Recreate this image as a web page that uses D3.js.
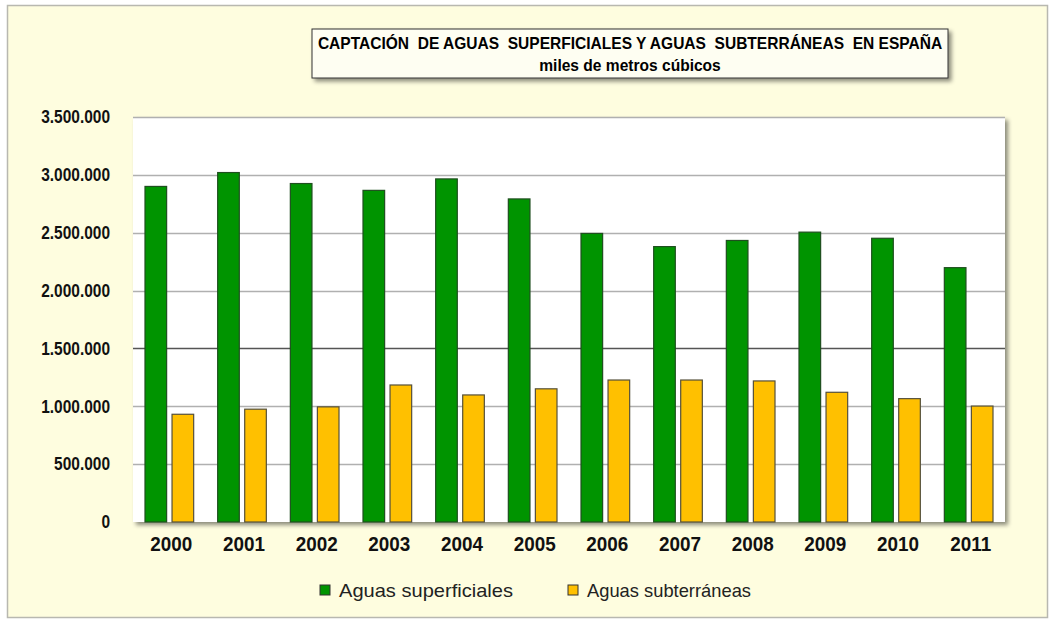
<!DOCTYPE html>
<html>
<head>
<meta charset="utf-8">
<script src="https://cdn.jsdelivr.net/npm/d3@7"></script>
<style>
	body { margin: 0; background: #ffffff; }
	svg text { font-family: "Liberation Sans Narrow", "Liberation Sans", Arial, sans-serif; }
</style>
</head>
<body>
<div id="chart"></div>
<script>
const years = ["2000", "2001", "2002", "2003", "2004", "2005", "2006", "2007", "2008", "2009", "2010", "2011"];
const superficiales = [2900000, 3020000, 2925000, 2866000, 2965000, 2792000, 2494000, 2380000, 2433000, 2505000, 2452000, 2198000];
const subterraneas = [931000, 975000, 995000, 1184000, 1098000, 1151000, 1227000, 1227000, 1219000, 1121000, 1066000, 1002000];
const seriesNames = ["Aguas superficiales", "Aguas subterráneas"];
const yTicks = [0, 500000, 1000000, 1500000, 2000000, 2500000, 3000000, 3500000];

const width = 1050;
const height = 621;
const plot = { left: 133, right: 1005, top: 117, bottom: 522 };

const svg = d3.select("#chart")
	.append("svg")
	.attr("width", width)
	.attr("height", height);

const defs = svg.append("defs");
const shadow = defs.append("filter").attr("id", "shadow").attr("x", "-5%").attr("y", "-5%").attr("width", "115%").attr("height", "130%");
shadow.append("feDropShadow").attr("dx", 3).attr("dy", 3).attr("stdDeviation", 2).attr("flood-color", "#000").attr("flood-opacity", 0.45);

// background panel
svg.append("rect")
	.attr("x", 7.5).attr("y", 5.5)
	.attr("width", 1040).attr("height", 612)
	.attr("fill", "#fefddf")
	.attr("stroke", "#b8b8b0")
	.attr("stroke-width", 1.5);

// title box
const titleG = svg.append("g");
titleG.append("rect")
	.attr("x", 312).attr("y", 29)
	.attr("width", 636).attr("height", 49)
	.attr("fill", "#fefef2")
	.attr("stroke", "#333")
	.attr("stroke-width", 1)
	.attr("filter", "url(#shadow)");
titleG.append("text")
	.attr("transform", "translate(630,49) scale(0.898,1)")
	.attr("text-anchor", "middle")
	.attr("font-size", 17.3)
	.attr("font-weight", "bold")
	.attr("xml:space", "preserve")
	.text("CAPTACIÓN  DE AGUAS  SUPERFICIALES Y AGUAS  SUBTERRÁNEAS  EN ESPAÑA");
titleG.append("text")
	.attr("transform", "translate(630,71) scale(0.9,1)")
	.attr("text-anchor", "middle")
	.attr("font-size", 17.3)
	.attr("font-weight", "bold")
	.text("miles de metros cúbicos");

// plot area
svg.append("rect")
	.attr("x", plot.left).attr("y", plot.top)
	.attr("width", plot.right - plot.left).attr("height", plot.bottom - plot.top)
	.attr("fill", "#ffffff")
	.attr("filter", "url(#shadow)");

const y = d3.scaleLinear().domain([0, 3500000]).range([plot.bottom, plot.top]);
const x0 = d3.scaleBand().domain(years).range([plot.left, plot.right]).padding(0);
const x1 = d3.scaleBand().domain(seriesNames).range([12, x0.bandwidth() - 12]).paddingInner(0.2);
const colors = d3.scaleOrdinal().domain(seriesNames).range(["#009400", "#ffc000"]);
const strokes = d3.scaleOrdinal().domain(seriesNames).range(["#1f4f1f", "#55503a"]);

// gridlines
svg.append("g")
	.selectAll("line")
	.data(yTicks.filter((t) => t > 0))
	.enter()
	.append("line")
	.attr("x1", plot.left).attr("x2", plot.right)
	.attr("y1", (d) => Math.round(y(d)) + 0.5)
	.attr("y2", (d) => Math.round(y(d)) + 0.5)
	.attr("stroke", (d) => (d === 1500000 ? "#555" : "#b0b0b0"))
	.attr("stroke-width", 1.5);

// y axis labels
const fmt = (v) => d3.format(",")(v).replace(/,/g, ".");
const yAxis = d3.axisLeft(y).tickValues(yTicks).tickSize(0).tickPadding(0).tickFormat(fmt);
const yAxisG = svg.append("g")
	.attr("transform", `translate(110,0)`)
	.call(yAxis);
yAxisG.select(".domain").remove();
yAxisG.selectAll("text")
	.attr("font-size", 18)
	.attr("font-weight", "bold")
	.attr("fill", "#111")
	.attr("transform", "scale(0.86,1)")
	.attr("font-family", "'Liberation Sans Narrow', 'Liberation Sans', Arial, sans-serif");

// bars
const rows = years.map((yr, i) => ({ year: yr, values: [superficiales[i], subterraneas[i]] }));
const groups = svg.append("g")
	.selectAll("g")
	.data(rows)
	.enter()
	.append("g")
	.attr("transform", (d) => `translate(${x0(d.year)},0)`);
groups.selectAll("rect")
	.data((d) => d.values.map((v, i) => ({ name: seriesNames[i], value: v })))
	.enter()
	.append("rect")
	.attr("x", (d) => x1(d.name))
	.attr("y", (d) => y(d.value))
	.attr("width", x1.bandwidth())
	.attr("height", (d) => plot.bottom - y(d.value))
	.attr("fill", (d) => colors(d.name))
	.attr("stroke", (d) => strokes(d.name))
	.attr("stroke-width", 1.2);

// x axis labels
const xAxis = d3.axisBottom(x0).tickSize(0).tickPadding(0);
const xAxisG = svg.append("g")
	.attr("transform", `translate(2,${plot.bottom + 14})`)
	.call(xAxis);
xAxisG.select(".domain").remove();
xAxisG.selectAll("text")
	.attr("font-size", 21)
	.attr("font-weight", "bold")
	.attr("fill", "#111")
	.attr("transform", "scale(0.9,1)")
	.attr("font-family", "'Liberation Sans Narrow', 'Liberation Sans', Arial, sans-serif");

// legend
const legendItems = [
	{ name: seriesNames[0], x: 320 },
	{ name: seriesNames[1], x: 568 },
];
const legend = svg.append("g")
	.selectAll("g")
	.data(legendItems)
	.enter()
	.append("g")
	.attr("transform", (d) => `translate(${d.x},585)`);
legend.append("rect")
	.attr("width", 10).attr("height", 10)
	.attr("fill", (d) => colors(d.name))
	.attr("stroke", "#333")
	.attr("stroke-width", 1);
legend.append("text")
	.attr("x", 19).attr("y", 12)
	.attr("font-size", 19)
	.attr("fill", "#222")
	.attr("textLength", (d, i) => (i === 0 ? 174 : 164))
	.attr("lengthAdjust", "spacingAndGlyphs")
	.attr("font-family", "Lato, 'Open Sans', sans-serif")
	.text((d) => d.name);
</script>
</body>
</html>
